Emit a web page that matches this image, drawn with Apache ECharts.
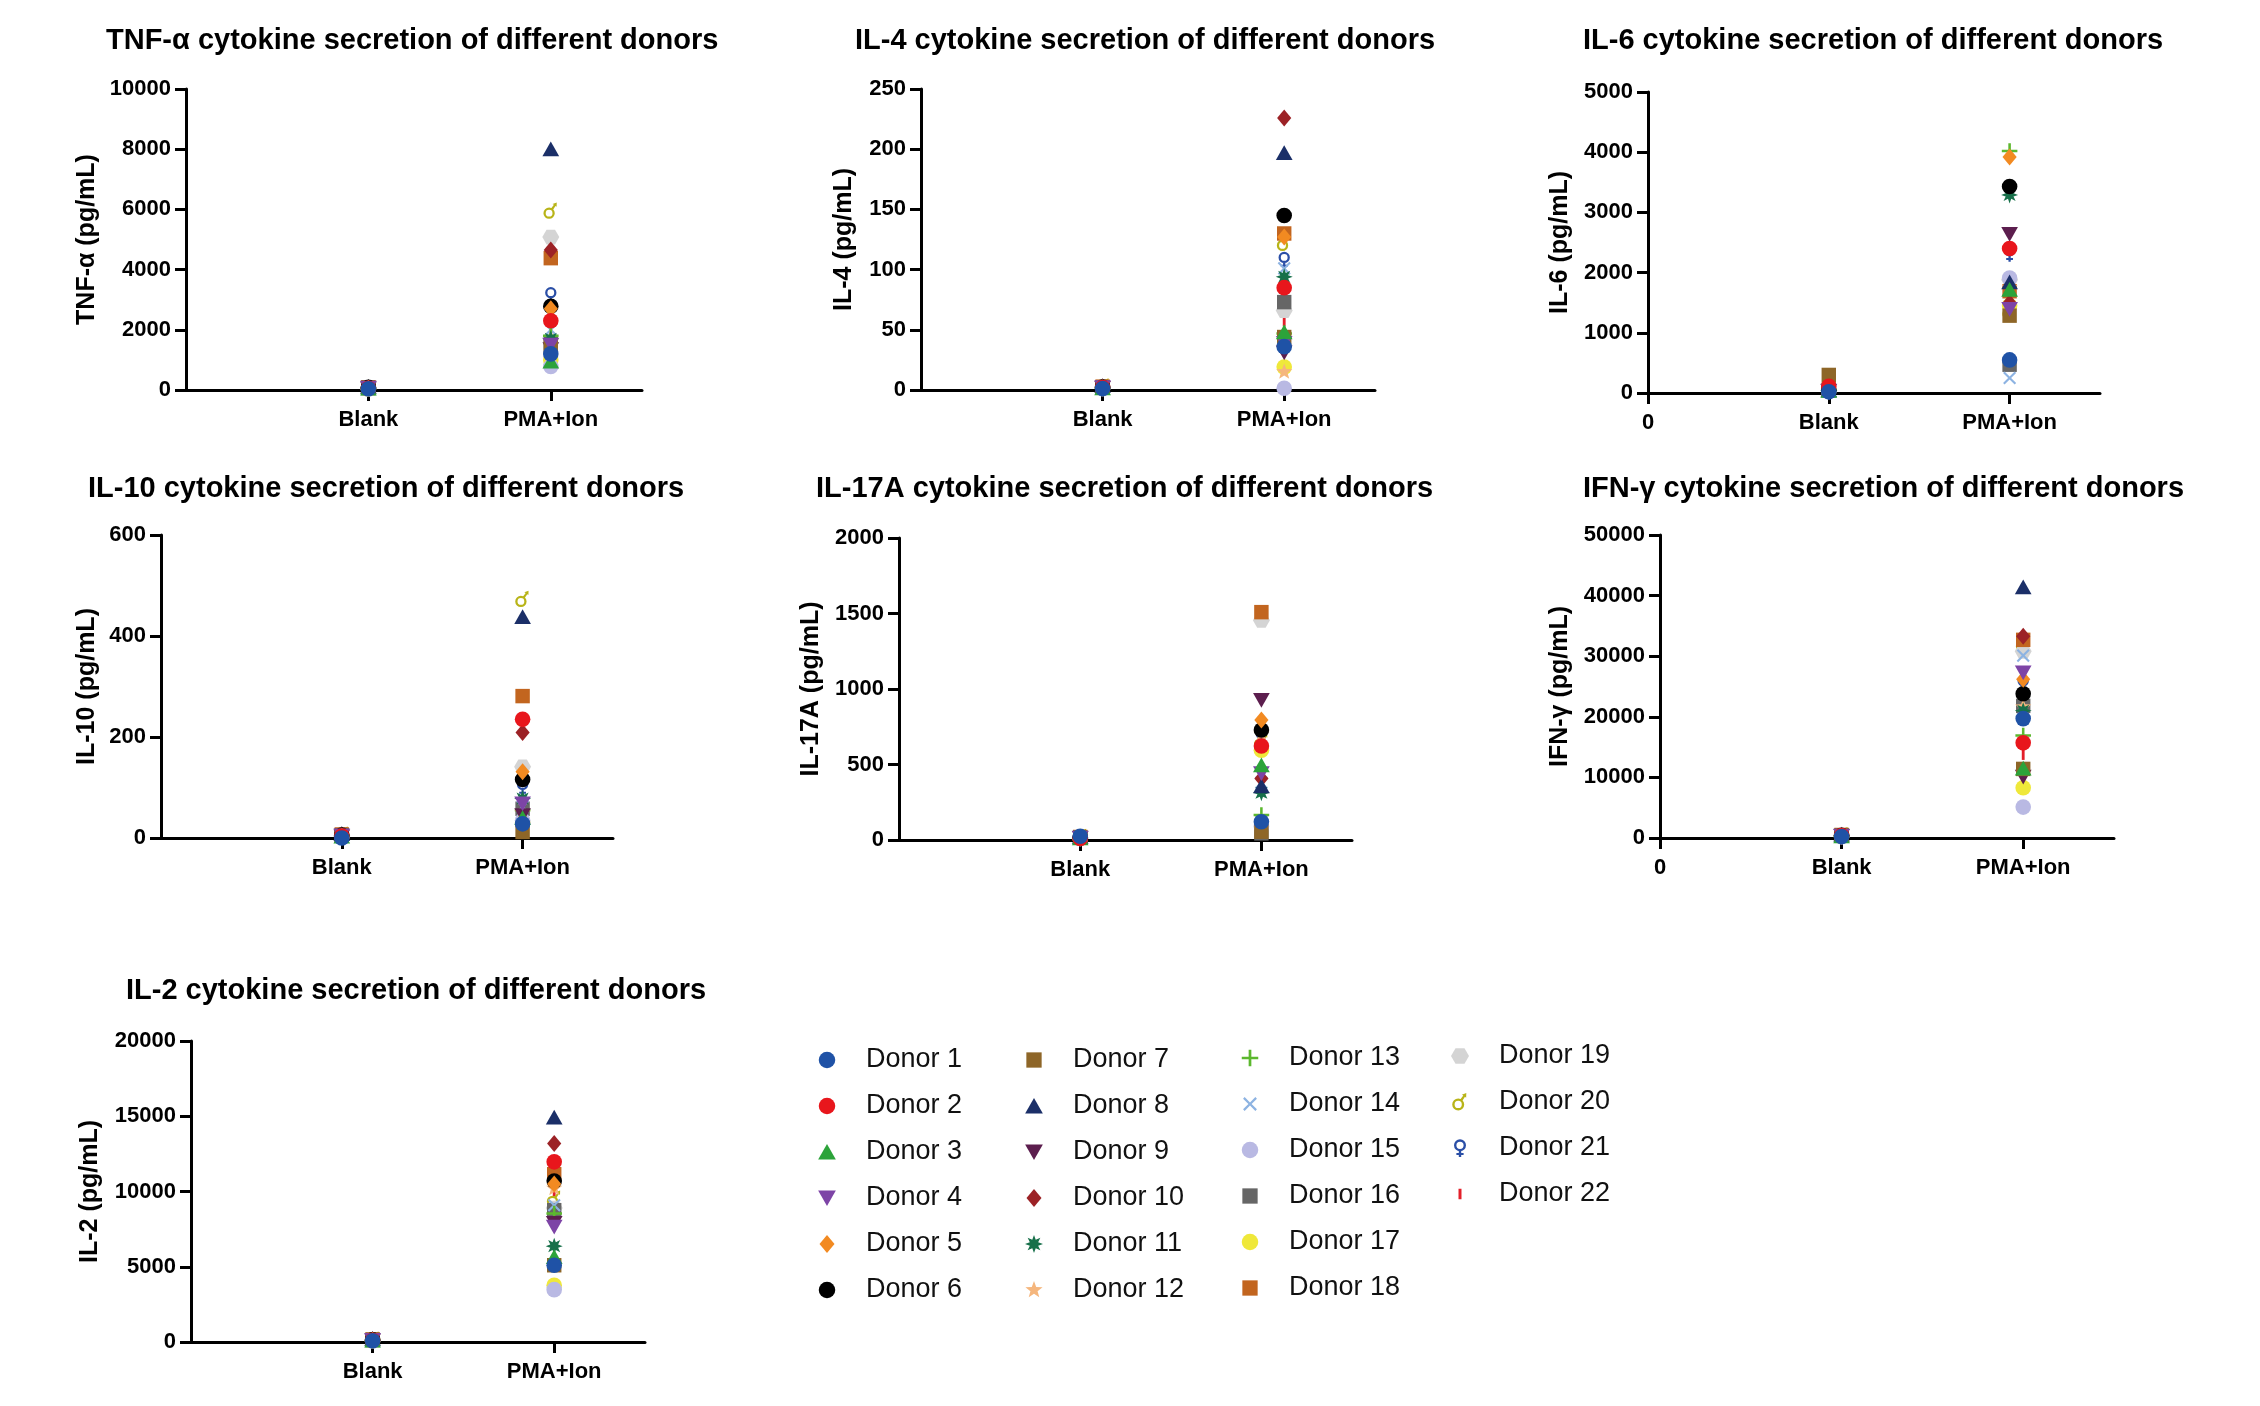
<!DOCTYPE html>
<html>
<head>
<meta charset="utf-8">
<title>Cytokine secretion of different donors</title>
<script src="https://cdn.jsdelivr.net/npm/echarts@6/dist/echarts.min.js"></script>
<style>
  html, body { margin: 0; padding: 0; background: #fff; }
  #main { width: 2260px; height: 1406px; }
</style>
</head>
<body>
<div id="main"></div>
<script>
// donors, groups and colours
var donors = ['Donor 1', 'Donor 2', 'Donor 3', 'Donor 4', 'Donor 5', 'Donor 6',
  'Donor 7', 'Donor 8', 'Donor 9', 'Donor 10', 'Donor 11', 'Donor 12',
  'Donor 13', 'Donor 14', 'Donor 15', 'Donor 16', 'Donor 17', 'Donor 18',
  'Donor 19', 'Donor 20', 'Donor 21', 'Donor 22'];
var groups = ['Blank', 'PMA+Ion'];
var donorColors = ['#1f52a6', '#e8161c', '#2ca33a', '#7d44a6', '#f28a21', '#000000',
  '#8e6628', '#1b2f68', '#5c1e4e', '#9c2226', '#17704a', '#f5b67d',
  '#5cb82e', '#8db3e2', '#b9b9e3', '#666666', '#efe83a', '#c2651f',
  '#d4d4d4', '#b8b418', '#2a4ea6', '#e3202a'];

// values in pg/mL, one per donor (Donor 1 .. Donor 22)
var tnfBlank = [40, 60, 50, 70, 60, 90, 80, 110, 50, 70, 60, 40, 50, 80, 30, 60, 40, 90, 70, 50, 60, 40];
var tnfPma = [1200, 2300, 950, 1500, 2700, 2780, 1450, 8000, 1350, 4650, 1700, 1600, 1800, 2000, 780, 1550, 1000, 4380, 5080, 5950, 3150, 1900];

var il4Blank = [1.2, 2.0, 1.5, 2.2, 1.8, 2.5, 2.0, 3.5, 1.6, 2.4, 1.7, 1.4, 1.9, 2.1, 1.0, 2.3, 1.5, 2.8, 2.0, 2.6, 1.8, 1.3];
var il4Pma = [36, 85, 48, 39, 127, 145, 44, 197, 31, 226, 94, 15, 47, 101, 1.5, 73, 19, 130, 66, 122, 108, 57];

var il6Blank = [20, 110, 40, 35, 60, 50, 300, 45, 30, 55, 40, 35, 50, 25, 30, 45, 35, 60, 40, 50, 30, 35];
var il6Pma = [550, 2400, 1715, 1395, 3920, 3430, 1285, 1840, 2640, 1500, 3290, 1750, 4020, 250, 1910, 470, 1450, 1690, 1880, 1350, 2320, 1300];

var il10Blank = [0, 4, 3, 5, 4, 6, 5, 8, 3, 6, 4, 3, 5, 4, 2, 5, 3, 7, 4, 6, 3, 2];
var il10Pma = [28, 235, 40, 68, 131, 116, 12, 438, 45, 209, 78, 50, 55, 62, 35, 58, 30, 281, 141, 473, 101, 40];

var il17Blank = [25, 10, 12, 15, 14, 18, 16, 22, 12, 17, 13, 11, 14, 15, 10, 16, 12, 20, 14, 18, 13, 11];
var il17Pma = [121, 623, 496, 441, 794, 728, 55, 357, 926, 408, 313, 700, 165, 380, 90, 44, 595, 1509, 1455, 650, 683, 450];

var ifnBlank = [250, 400, 300, 350, 320, 450, 420, 600, 300, 380, 330, 280, 310, 340, 200, 360, 290, 500, 330, 420, 300, 260];
var ifnPma = [19700, 15700, 11500, 27300, 26200, 23800, 11400, 41400, 10100, 33300, 21000, 21600, 16900, 30100, 5100, 21800, 8300, 32700, 30800, 32000, 25500, 13700];

var il2Blank = [80, 120, 100, 130, 110, 150, 140, 220, 100, 140, 110, 90, 100, 120, 70, 130, 100, 170, 110, 140, 100, 90];
var il2Pma = [5100, 11970, 5650, 7650, 10500, 10690, 5100, 14920, 7900, 13190, 6370, 10200, 8540, 9090, 3480, 8760, 3770, 11150, 8900, 9500, 8200, 10000];

var FONT = "'Liberation Sans', Arial, sans-serif";

// ---- marker shapes, all drawn in the same 12x12 frame ----
var FRAME = 'M0,0 M12,12 ';
function poly(pts) {
  return 'M' + pts.map(function (p) { return p[0].toFixed(2) + ',' + p[1].toFixed(2); }).join(' L') + ' Z';
}
function starPts(n, rOut, rIn, rot) {
  var pts = [];
  for (var k = 0; k < n * 2; k++) {
    var r = k % 2 === 0 ? rOut : rIn;
    var a = rot + Math.PI * k / n;
    pts.push([6 + r * Math.cos(a), 6 + r * Math.sin(a)]);
  }
  return pts;
}
function rotatePts(pts, ang) {
  return pts.map(function (p) {
    var dx = p[0] - 6, dy = p[1] - 6;
    return [6 + dx * Math.cos(ang) - dy * Math.sin(ang), 6 + dx * Math.sin(ang) + dy * Math.cos(ang)];
  });
}
var plusPts = [[5.1, 0.5], [6.9, 0.5], [6.9, 5.1], [11.5, 5.1], [11.5, 6.9], [6.9, 6.9], [6.9, 11.5],
  [5.1, 11.5], [5.1, 6.9], [0.5, 6.9], [0.5, 5.1], [5.1, 5.1]];
var thinPlus = [[5.25, 0.2], [6.75, 0.2], [6.75, 5.25], [11.8, 5.25], [11.8, 6.75], [6.75, 6.75], [6.75, 11.8],
  [5.25, 11.8], [5.25, 6.75], [0.2, 6.75], [0.2, 5.25], [5.25, 5.25]];

var shapes = {
  circle: 'M6,0.5 A5.5,5.5 0 1,1 6,11.5 A5.5,5.5 0 1,1 6,0.5 Z',
  triUp: 'M6,0.6 L11.9,11 L0.1,11 Z',
  triDown: 'M0.1,1 L11.9,1 L6,11.4 Z',
  diamond: 'M6,0 L11,6 L6,12 L1,6 Z',
  square: 'M0.9,0.9 H11.1 V11.1 H0.9 Z',
  burst: poly(starPts(8, 6, 3, 0)),
  star: poly(starPts(5, 6, 2.5, -Math.PI / 2)),
  plus: poly(plusPts),
  cross: poly(rotatePts(thinPlus, Math.PI / 4)),
  hex: poly(starPts(3, 6, 6, 0)),
  male: 'M4.8,3.6 A4,4 0 1,1 4.8,11.6 A4,4 0 1,1 4.8,3.6 Z M4.8,5.2 A2.4,2.4 0 1,0 4.8,10 A2.4,2.4 0 1,0 4.8,5.2 Z ' +
    'M6.3,4.2 L8.2,1.7 L7.2,1.1 L10.2,0 L10.1,3.1 L9.3,2.5 L7.6,5.1 Z',
  female: 'M6,0.2 A4,4 0 1,1 6,8.2 A4,4 0 1,1 6,0.2 Z M6,1.8 A2.4,2.4 0 1,0 6,6.6 A2.4,2.4 0 1,0 6,1.8 Z ' +
    'M5.2,7.9 H6.8 V12 H5.2 Z M3.6,9.3 H8.4 V10.7 H3.6 Z',
  bar: 'M5,2.5 H7 V9.5 H5 Z'
};
var donorShapes = ['circle', 'circle', 'triUp', 'triDown', 'diamond', 'circle',
  'square', 'triUp', 'triDown', 'diamond', 'burst', 'star',
  'plus', 'cross', 'circle', 'square', 'circle', 'square',
  'hex', 'male', 'female', 'bar'];

// ---- panel layout ----
var panels = [
  { title: 'TNF-α cytokine secretion of different donors', yName: 'TNF-α (pg/mL)', blank: tnfBlank, pma: tnfPma,
    max: 10000, step: 2000, grid: [186, 89, 456, 301], titlePos: [106, 26], nameGap: 86, zero: false },
  { title: 'IL-4 cytokine secretion of different donors', yName: 'IL-4 (pg/mL)', blank: il4Blank, pma: il4Pma,
    max: 250, step: 50, grid: [921, 89, 454, 301], titlePos: [855, 26], nameGap: 64, zero: false },
  { title: 'IL-6 cytokine secretion of different donors', yName: 'IL-6 (pg/mL)', blank: il6Blank, pma: il6Pma,
    max: 5000, step: 1000, grid: [1648, 92, 452, 301], titlePos: [1583, 26], nameGap: 75, zero: true },
  { title: 'IL-10 cytokine secretion of different donors', yName: 'IL-10 (pg/mL)', blank: il10Blank, pma: il10Pma,
    max: 600, step: 200, grid: [161, 535, 452, 303], titlePos: [88, 474], nameGap: 61, zero: false },
  { title: 'IL-17A cytokine secretion of different donors', yName: 'IL-17A (pg/mL)', blank: il17Blank, pma: il17Pma,
    max: 2000, step: 500, grid: [899, 538, 453, 302], titlePos: [816, 474], nameGap: 75, zero: false },
  { title: 'IFN-γ cytokine secretion of different donors', yName: 'IFN-γ (pg/mL)', blank: ifnBlank, pma: ifnPma,
    max: 50000, step: 10000, grid: [1660, 535, 454, 303], titlePos: [1583, 474], nameGap: 87, zero: true },
  { title: 'IL-2 cytokine secretion of different donors', yName: 'IL-2 (pg/mL)', blank: il2Blank, pma: il2Pma,
    max: 20000, step: 5000, grid: [191, 1041, 454, 301], titlePos: [126, 976], nameGap: 88, zero: false }
];

var titles = [], grids = [], xAxes = [], yAxes = [], series = [];

panels.forEach(function (p, pi) {
  titles.push({
    text: p.title, left: p.titlePos[0], top: p.titlePos[1], padding: 0,
    textStyle: { fontFamily: FONT, fontSize: 29, fontWeight: 'bold', color: '#000' }
  });
  grids.push({ left: p.grid[0], top: p.grid[1], width: p.grid[2], height: p.grid[3] });

  var xVals = p.zero ? [0, 1, 2] : [1, 2];
  xAxes.push({
    type: 'value', gridIndex: pi, min: 0, max: groups.length + 0.5,
    axisLine: { show: true, onZero: false, lineStyle: { color: '#000', width: 3 } },
    axisTick: { show: true, length: 11, customValues: xVals, lineStyle: { color: '#000', width: 3 } },
    axisLabel: {
      customValues: xVals, margin: 19, color: '#000', fontFamily: FONT, fontSize: 22, fontWeight: 'bold',
      formatter: function (v) { return v === 0 ? '0' : (groups[v - 1] || ''); }
    },
    splitLine: { show: false }
  });
  yAxes.push({
    type: 'value', gridIndex: pi, min: 0, max: p.max, interval: p.step,
    name: p.yName, nameLocation: 'middle', nameGap: p.nameGap,
    nameTextStyle: { fontFamily: FONT, fontSize: 25, fontWeight: 'bold', color: '#000' },
    axisLine: { show: true, onZero: false, lineStyle: { color: '#000', width: 3 } },
    axisTick: { show: true, length: 11, lineStyle: { color: '#000', width: 3 } },
    axisLabel: {
      margin: 15, color: '#000', fontFamily: FONT, fontSize: 22, fontWeight: 'bold',
      formatter: function (v) { return String(v); }
    },
    splitLine: { show: false }
  });

  donors.forEach(function (name, i) {
    series.push({
      type: 'scatter', name: name, xAxisIndex: pi, yAxisIndex: pi,
      data: [[1, p.blank[i]], [2, p.pma[i]]],
      symbol: 'path://' + FRAME + shapes[donorShapes[i]],
      symbolKeepAspect: true, symbolSize: 17,
      itemStyle: { color: donorColors[i], opacity: 1 },
      z: 40 - i, silent: true, emphasis: { disabled: true }
    });
  });
});

// legend: four columns placed like the figure
var legendCols = [donors.slice(0, 6), donors.slice(6, 12), donors.slice(12, 18), donors.slice(18)];
var legendPos = [[818, 1045], [1025, 1045], [1241, 1043], [1451, 1041]];
var legends = legendCols.map(function (names, c) {
  return {
    data: names, orient: 'vertical', left: legendPos[c][0], top: legendPos[c][1],
    padding: 0, itemWidth: 68, itemHeight: 18, itemGap: 16, selectedMode: false,
    textStyle: { fontFamily: FONT, fontSize: 27, color: '#111', lineHeight: 30 }
  };
});

var chart = echarts.init(document.getElementById('main'));
chart.setOption({
  backgroundColor: '#fff',
  animation: false,
  title: titles,
  legend: legends,
  grid: grids,
  xAxis: xAxes,
  yAxis: yAxes,
  series: series
});
</script>
</body>
</html>
